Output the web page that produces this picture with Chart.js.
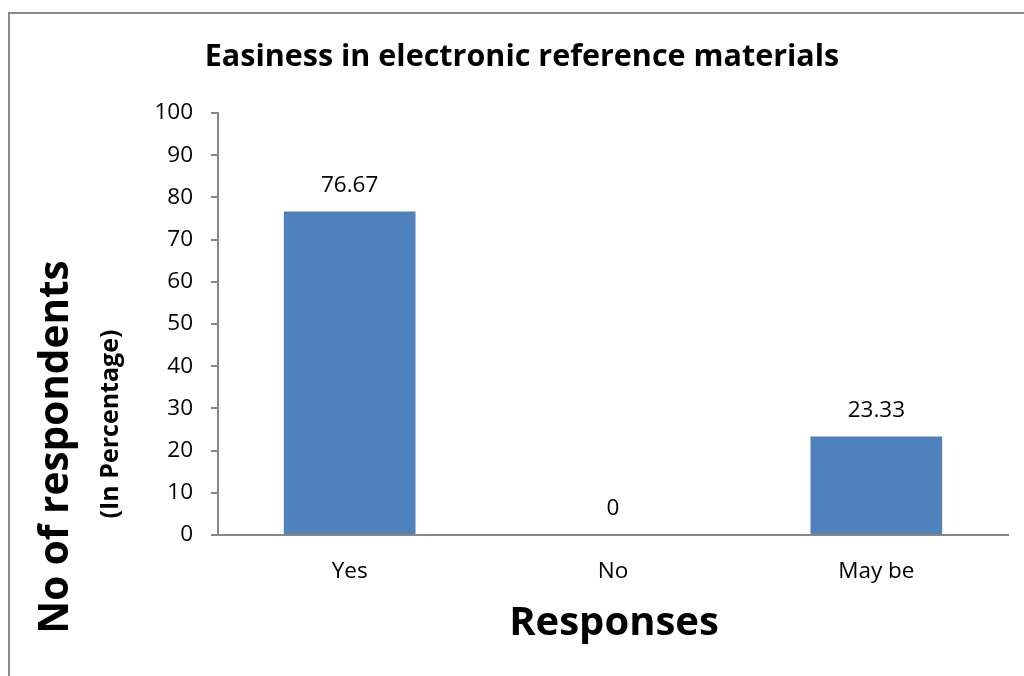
<!DOCTYPE html>
<html>
<head>
<meta charset="utf-8">
<script src="https://cdn.jsdelivr.net/npm/chart.js@4/dist/chart.umd.min.js"></script>
<style>
  html, body { margin: 0; padding: 0; background: #fff; overflow: hidden; }
  #wrap { position: relative; width: 1024px; height: 676px; }
  #frame { position: absolute; left: 8px; top: 12px; width: 1100px; height: 700px;
           border-top: 2px solid #8a8a8a; border-left: 2px solid #8a8a8a; }
  canvas { position: absolute; left: 0; top: 0; }
</style>
</head>
<body>
<div id="wrap">
  <div id="frame"></div>
  <canvas id="c" width="1024" height="676"></canvas>
</div>
<script>
const chartTitle = 'Easiness in electronic reference materials';
const yTitle = 'No of respondents';
const ySubTitle = '(In Percentage)';
const xTitle = 'Responses';
const categories = ['Yes', 'No', 'May be'];
const percentValues = [76.67, 0, 23.33];
const yTickValues = [0, 10, 20, 30, 40, 50, 60, 70, 80, 90, 100];

const FONT = '"Open Sans", "Liberation Sans", sans-serif';
const AXIS_GREY = '#868686';
const LABEL_SIZE = 22.5;

// Title, axis titles and value labels
const textPlugin = {
  id: 'textPlugin',
  afterDraw(chart) {
    const ctx = chart.ctx;
    const area = chart.chartArea;
    ctx.save();
    ctx.fillStyle = '#000';
    ctx.textAlign = 'center';
    ctx.textBaseline = 'middle';

    ctx.font = 'bold 30.5px ' + FONT;
    ctx.fillText(chartTitle, 522, 57);

    ctx.font = 'bold 40px ' + FONT;
    ctx.fillText(xTitle, 614, 624);

    ctx.save();
    ctx.translate(56, 447);
    ctx.rotate(-Math.PI / 2);
    ctx.font = 'bold 40.5px ' + FONT;
    ctx.fillText(yTitle, 0, 0);
    ctx.restore();

    ctx.save();
    ctx.translate(111, 424);
    ctx.rotate(-Math.PI / 2);
    ctx.font = 'bold 25px ' + FONT;
    ctx.fillText(ySubTitle, 0, 0);
    ctx.restore();

    // value labels above each bar
    ctx.font = LABEL_SIZE + 'px ' + FONT;
    const meta = chart.getDatasetMeta(0);
    meta.data.forEach((bar, i) => {
      ctx.fillText(String(percentValues[i]), bar.x, bar.y - 26);
    });

    // x axis line runs a little past the y axis
    ctx.strokeStyle = AXIS_GREY;
    ctx.lineWidth = 2;
    ctx.beginPath();
    ctx.moveTo(area.left - 7, area.bottom);
    ctx.lineTo(area.right, area.bottom);
    ctx.stroke();
    ctx.restore();
  }
};

new Chart(document.getElementById('c'), {
  type: 'bar',
  data: {
    labels: categories,
    datasets: [{
      data: percentValues,
      backgroundColor: '#4F81BD',
      borderWidth: 0,
      barPercentage: 0.5,
      categoryPercentage: 1.0
    }]
  },
  options: {
    responsive: false,
    animation: false,
    devicePixelRatio: 1,
    layout: { padding: { top: 113, right: 16, bottom: 0, left: 0 } },
    plugins: {
      legend: { display: false },
      title: { display: false },
      tooltip: { enabled: false }
    },
    scales: {
      x: {
        grid: { display: false, drawTicks: false },
        border: { display: true, color: AXIS_GREY, width: 2 },
        ticks: { color: '#000', font: { family: FONT, size: LABEL_SIZE }, padding: 23 },
        afterFit(scale) { scale.height = 141; }
      },
      y: {
        min: 0,
        max: 100,
        afterBuildTicks(scale) { scale.ticks = yTickValues.map(v => ({ value: v })); },
        grid: { drawOnChartArea: false, drawTicks: true, tickLength: 7, color: AXIS_GREY, lineWidth: 2 },
        border: { display: true, color: AXIS_GREY, width: 2 },
        ticks: { color: '#000', font: { family: FONT, size: LABEL_SIZE }, padding: 18 },
        afterFit(scale) { scale.width = 218; }
      }
    }
  },
  plugins: [textPlugin]
});
</script>
</body>
</html>
